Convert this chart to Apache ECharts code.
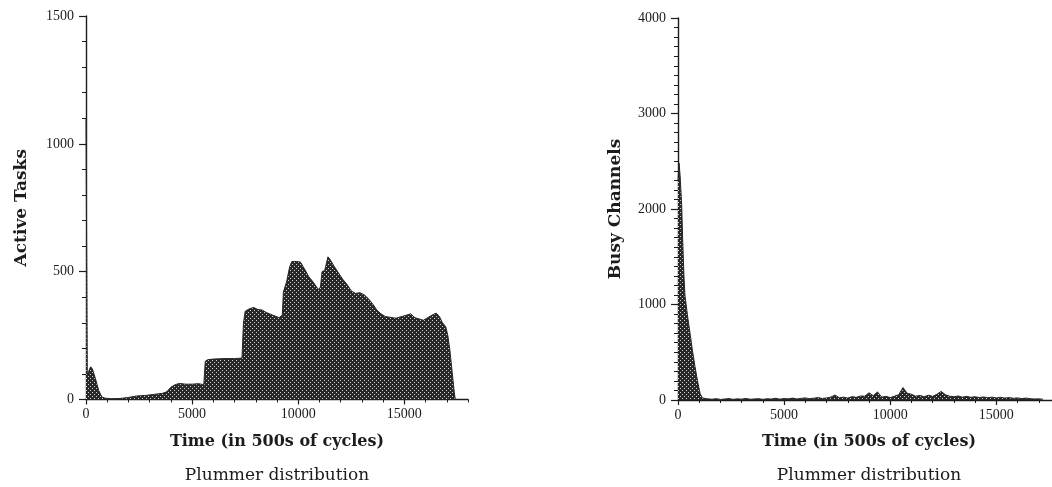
<!DOCTYPE html>
<html>
<head>
<meta charset="utf-8">
<script src="https://cdn.jsdelivr.net/npm/echarts@6/dist/echarts.min.js"></script>
<style>
  html, body { margin: 0; padding: 0; background: #ffffff; }
  #chart { width: 1052px; height: 487px; }
</style>
</head>
<body>
<div id="chart"></div>
<script>
// Active tasks over time (time in 500s of cycles)
const taskTimes = [0, 60, 150, 220, 300, 450, 600, 750, 900, 1200, 1600, 2000, 2400, 2800, 3200, 3600, 3800,
  4000, 4200, 4400, 4700, 5000, 5300, 5550, 5620, 5750, 6000, 6500, 7000, 7350, 7420, 7500, 7700, 7900,
  8100, 8300, 8500, 8800, 9100, 9250, 9300, 9450, 9600, 9700, 9900, 10100, 10300, 10500, 10700, 10950,
  11050, 11120, 11250, 11400, 11500, 11700, 11900, 12100, 12300, 12500, 12700, 12900, 13100, 13300,
  13500, 13700, 13900, 14100, 14300, 14600, 14900, 15100, 15300, 15500, 15700, 15900, 16100, 16300,
  16500, 16650, 16800, 16950, 17050, 17150, 17250, 17350, 17400];
const taskValues = [1100, 92, 115, 128, 120, 80, 35, 10, 5, 3, 4, 8, 14, 16, 20, 24, 30,
  48, 58, 63, 60, 60, 62, 58, 150, 156, 158, 160, 160, 162, 300, 345, 355, 360,
  352, 350, 340, 330, 320, 330, 420, 460, 520, 540, 540, 538, 510, 480, 460, 430,
  440, 500, 505, 558, 548, 520, 495, 470, 450, 425, 415, 418, 410, 395,
  375, 350, 335, 325, 322, 318, 325, 330, 335, 320, 315, 310, 320, 330,
  338, 325, 300, 285, 250, 190, 110, 30, 0];

// Busy channels over time
const chanTimes = [0, 50, 100, 175, 220, 280, 330, 450, 566, 680, 800, 920, 1040, 1150,
  1400, 1600, 1800, 2000, 2200, 2400, 2600, 2800, 3000, 3200, 3400, 3600, 3800, 4000, 4200,
  4400, 4600, 4800, 5000, 5200, 5400, 5600, 5800, 6000, 6200, 6400, 6600, 6800, 7000, 7200,
  7400, 7600, 7800, 8000, 8200, 8400, 8600, 8800, 9000, 9200, 9400, 9600, 9800, 10000, 10200,
  10400, 10600, 10800, 11000, 11200, 11400, 11600, 11800, 12000, 12200, 12400, 12600, 12800,
  13000, 13200, 13400, 13600, 13800, 14000, 14200, 14400, 14600, 14800, 15000, 15200, 15400,
  15600, 15800, 16000, 16200, 16400, 16600, 16800, 17000, 17200];
const chanValues = [2300, 2480, 2350, 2030, 1680, 1300, 1090, 880, 700, 520, 350, 200, 70, 20,
  12, 8, 14, 6, 10, 15, 7, 12, 9, 16, 8, 11, 14, 7, 13,
  10, 18, 9, 15, 12, 20, 11, 17, 22, 14, 19, 25, 16, 22, 30,
  52, 24, 30, 20, 35, 28, 42, 40, 75, 45, 85, 30, 38, 25, 40,
  55, 130, 70, 60, 40, 48, 35, 50, 38, 60, 90, 55, 40,
  35, 42, 30, 38, 28, 34, 26, 32, 24, 30, 22, 28, 20,
  25, 18, 22, 15, 20, 14, 10, 12, 8];

const taskTicks = { min: 0, max: 1500, interval: 500 };
const chanTicks = { min: 0, max: 4000, interval: 1000 };
const timeTicks = { min: 0, max: 18000, interval: 5000, minor: 1000 };

const pair = (xs, ys) => xs.map((x, i) => [x, ys[i]]);

// Dark dithered halftone used to fill the areas
function halftone() {
  const c = document.createElement('canvas');
  c.width = 4; c.height = 4;
  const g = c.getContext('2d');
  g.fillStyle = '#282828';
  g.fillRect(0, 0, 4, 4);
  g.fillStyle = '#cfcfcf';
  g.fillRect(0, 0, 1, 1);
  g.fillRect(2, 2, 1, 1);
  return c;
}
const fill = { image: halftone(), repeat: 'repeat' };

const ink = '#1c1c1c';
const serif = 'Liberation Serif';
const titleFont = 'DejaVu Serif';
const plain = v => String(v);

const leftBox = { left: 86, top: 16, width: 382, height: 383.5, outerBoundsMode: 'none' };
const rightBox = { left: 678, top: 18, width: 382, height: 382, outerBoundsMode: 'none' };

function mainX(gridIndex) {
  return {
    type: 'value', gridIndex, position: 'bottom',
    min: timeTicks.min, max: timeTicks.max, interval: timeTicks.interval,
    splitLine: { show: false },
    axisLine: { onZero: false, lineStyle: { color: ink, width: 1.4 } },
    axisTick: { length: 5, lineStyle: { color: ink, width: 1.2 } },
    axisLabel: { color: ink, fontFamily: serif, fontSize: 14, margin: 8, showMaxLabel: false, formatter: plain },
    name: '{a|Time (in 500s of cycles)}\n{b|Plummer distribution}',
    nameLocation: 'middle', nameGap: 29,
    nameTextStyle: {
      rich: {
        a: { fontFamily: titleFont, fontSize: 16, fontWeight: 'bold', color: ink, lineHeight: 26 },
        b: { fontFamily: titleFont, fontSize: 17, color: ink, lineHeight: 42 }
      }
    }
  };
}
// Thousand-step minor ticks along the time axis: a top-positioned axis shifted
// down onto the bottom edge, with its ticks turned to point downward
function minorX(gridIndex, plotHeight) {
  return {
    type: 'value', gridIndex, position: 'top', offset: -plotHeight,
    min: timeTicks.min, max: timeTicks.max, interval: timeTicks.minor,
    splitLine: { show: false },
    axisLine: { show: false, onZero: false },
    axisTick: { show: true, inside: true, length: 3, lineStyle: { color: ink, width: 1 } },
    axisLabel: { show: false }
  };
}
function yAxis(gridIndex, t, name, gap, minorSplit) {
  return {
    type: 'value', gridIndex,
    min: t.min, max: t.max, interval: t.interval,
    splitLine: { show: false },
    axisLine: { show: true, lineStyle: { color: ink, width: 1.4 } },
    axisTick: { show: true, length: 7, lineStyle: { color: ink, width: 1.2 } },
    minorTick: { show: true, splitNumber: minorSplit, length: 4, lineStyle: { color: ink, width: 1 } },
    minorSplitLine: { show: false },
    axisLabel: { color: ink, fontFamily: serif, fontSize: 14, margin: 12, formatter: plain },
    name, nameLocation: 'middle', nameGap: gap,
    nameTextStyle: { fontFamily: titleFont, fontSize: 17, fontWeight: 'bold', color: ink }
  };
}

const chart = echarts.init(document.getElementById('chart'), null, { renderer: 'canvas' });
chart.setOption({
  backgroundColor: '#ffffff',
  animation: false,
  grid: [leftBox, rightBox],
  xAxis: [mainX(0), mainX(1), minorX(0, leftBox.height), minorX(1, rightBox.height)],
  yAxis: [
    yAxis(0, taskTicks, 'Active Tasks', 56, 5),
    yAxis(1, chanTicks, 'Busy Channels', 54, 10)
  ],
  series: [
    {
      type: 'line', xAxisIndex: 0, yAxisIndex: 0,
      data: pair(taskTimes, taskValues),
      symbol: 'none', smooth: false,
      lineStyle: { color: '#262626', width: 1 },
      areaStyle: { color: fill, opacity: 1 }
    },
    {
      type: 'line', xAxisIndex: 1, yAxisIndex: 1,
      data: pair(chanTimes, chanValues),
      symbol: 'none', smooth: false,
      lineStyle: { color: '#262626', width: 1 },
      areaStyle: { color: fill, opacity: 1 }
    }
  ]
});
</script>
</body>
</html>
